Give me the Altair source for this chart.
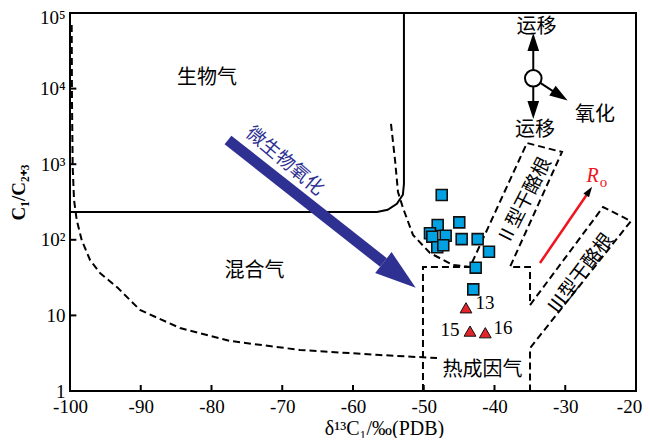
import altair as alt
import pandas as pd

# ---------------- data (all in data coordinates) ----------------
# solid boundary of biogenic gas field
bio_x = [-100, -56.6, -55.1, -53.8, -52.95, -52.8, -52.8]
bio_y = [233, 233, 249, 299, 395, 547, 100000]

# dashed boundary of mixed gas (left curve)
mix_x = [-99.76, -99.72, -99.62, -99.43, -99.05, -98.35, -97.17, -95.76, -93.22,
         -90.11, -84.45, -77.39, -67.49, -56.18, -48.13]
mix_y = [69350, 7063, 918, 336, 183, 99.4, 54.1, 36.4, 23.0,
         11.8, 6.81, 4.59, 3.49, 2.99, 2.73]

# dashed curve right of biogenic field
cur_x = [-54.63, -54.06, -53.64, -52.93, -51.52, -49.12, -45.87, -43.46]
cur_y = [3404, 1136, 429, 263, 116, 66.9, 46.4, 43.7]

# dashed outline of thermogenic box + kerogen type II / III bands
thm_x = [-50.11, -50.11, -43.46, -35.41, -30.46, -37.81, -34.98, -34.98,
         -24.66, -20.71, -34.98, -34.98]
thm_y = [1, 43.7, 43.7, 1907, 1450, 43.7, 43.7, 13.7,
         271, 177, 3.7, 1]

# samples
sq_x = [-47.46, -44.98, -48.03, -49.12, -48.79, -46.90, -44.64, -42.38,
        -48.09, -47.24, -40.78, -42.66, -43.0]
sq_y = [391, 170, 157, 122, 110, 113, 102, 102, 79.6, 84.6, 69.6, 42.8, 22.1]
tri_x = [-44.03, -43.46, -41.30]
tri_y = [12.6, 6.2, 5.9]
tri_lab = ["13", "15", "16"]
tri_lab_x = [-41.34, -46.29, -38.80]
tri_lab_y = [14.6, 6.41, 6.81]

# region labels
reg_text = ["生物气", "混合气", "热成因气", "运移", "运移", "氧化"]
reg_x = [-80.64, -73.92, -41.70, -34.06, -34.28, -25.80]
reg_y = [13810, 38.7, 1.90, 66000, 2834, 4477]

ker_text = ["Ⅱ型干酪根", "Ⅲ型干酪根"]
ker_x = [-35.76, -27.84]
ker_y = [326, 35.8]
ker_a = [297, 307]

# microbial oxidation arrow
mo_x = [-77.67, -55.69]
mo_y = [2090, 50.1]
mo_head = (-53.42, 34.0, 38)
mo_text = "微生物氧化"
mo_pos = (-69.61, 1103)

# Ro arrow
ro_x = [-33.57, -27.01]
ro_y = [49.4, 388]
ro_head = (-26.62, 441, 304.4)

# migration / oxidation symbol
sym_c = (-34.52, 13680)
sym_lines_x = [[-34.52, -34.52], [-34.52, -34.52], [-33.53, -31.69]]
sym_lines_y = [[17620, 31430], [10500, 6855], [11930, 9210]]
sym_heads_x = [-34.52, -34.52, -30.74]
sym_heads_y = [41330, 5212, 8080]
sym_heads_a = [270, 90, 33]

xticks = [-90, -80, -70, -60, -50, -40, -30]
yticks = [10, 100, 1000, 10000]

# ---------------- chart ----------------
SERIF = "Liberation Serif"
CJK = "Noto Sans CJK SC"
HEAD = "M1,0L-1,-0.65L-1,0.65Z"

xs = alt.Scale(domain=[-100, -20], nice=False, zero=False)
ys = alt.Scale(type="log", domain=[1, 100000], nice=False)

xaxis = alt.Axis(values=list(range(-100, -19, 10)), labelExpr="'' + datum.value",
                 title="δ¹³C₁/‰(PDB)", titleX=314, titleY=37, titleBaseline="middle",
                 titleAlign="center", titleFont=SERIF, titleFontSize=20, titleFontWeight="normal",
                 labelPadding=6,
                 labelOffset={"condition": {"test": "datum.value == -20", "value": -7}, "value": 0})
yaxis = alt.Axis(values=[1, 10, 100, 1000, 10000, 100000],
                 labelExpr="datum.value >= 99999 ? '10⁵' : datum.value >= 9999 ? '10⁴' : "
                           "datum.value >= 999 ? '10³' : datum.value >= 99 ? '10²' : "
                           "datum.value >= 9 ? '10' : '1'",
                 title="C₁/C₂₊₃", titleX=-52, titleY=179, titleAngle=270, titleAlign="center",
                 titleBaseline="middle", titleFont=SERIF, titleFontSize=19, titleFontWeight="bold",
                 labelPadding=5,
                 labelOffset={"condition": {"test": "datum.value >= 99999", "value": 4}, "value": 0})


def X(f="x"):
    return alt.X(f"{f}:Q", scale=xs, axis=xaxis)


def Y(f="y"):
    return alt.Y(f"{f}:Q", scale=ys, axis=yaxis)


def ldf(xl, yl, g=0):
    return pd.DataFrame({"x": xl, "y": yl, "i": list(range(len(xl))), "g": g})


bio = alt.Chart(ldf(bio_x, bio_y)).mark_line(color="black", strokeWidth=2).encode(
    x=X(), y=Y(), order="i:Q")

dash_df = pd.concat([ldf(mix_x, mix_y, 0), ldf(cur_x, cur_y, 1), ldf(thm_x, thm_y, 2)])
dash = alt.Chart(dash_df).mark_line(color="black", strokeWidth=2, strokeDash=[7, 4]).encode(
    x=X(), y=Y(), order="i:Q", detail="g:N")

# axis ticks (inward)
ytick_df = pd.DataFrame({"x": [-100] * len(yticks), "x2": [-99.1] * len(yticks), "y": yticks})
xtick_df = pd.DataFrame({"x": xticks, "y": [1] * len(xticks), "y2": [1.2] * len(xticks)})
ytk = alt.Chart(ytick_df).mark_rule(color="black", strokeWidth=2).encode(
    x=X(), x2="x2:Q", y=Y())
xtk = alt.Chart(xtick_df).mark_rule(color="black", strokeWidth=2).encode(
    x=X(), y=Y(), y2="y2:Q")

# microbial oxidation arrow
BLUE = "#2E3192"
mo_line = alt.Chart(ldf(mo_x, mo_y)).mark_line(color=BLUE, strokeWidth=11, strokeCap="butt").encode(
    x=X(), y=Y(), order="i:Q")
mo_h = alt.Chart(pd.DataFrame({"x": [mo_head[0]], "y": [mo_head[1]], "a": [mo_head[2]]})).mark_point(
    shape=HEAD, filled=True, color=BLUE, opacity=1, size=1681).encode(
    x=X(), y=Y(), angle=alt.Angle("a:Q", scale=None))
mo_t = alt.Chart(pd.DataFrame({"x": [mo_pos[0]], "y": [mo_pos[1]], "t": [mo_text]})).mark_text(
    font=CJK, fontSize=19, color=BLUE, angle=40).encode(x=X(), y=Y(), text="t:N")

# Ro arrow
RED = "#F0141E"
ro_line = alt.Chart(ldf(ro_x, ro_y)).mark_line(color=RED, strokeWidth=2.5).encode(
    x=X(), y=Y(), order="i:Q")
ro_h = alt.Chart(pd.DataFrame({"x": [ro_head[0]], "y": [ro_head[1]], "a": [ro_head[2]]})).mark_point(
    shape=HEAD, filled=True, color="black", opacity=1, size=110).encode(
    x=X(), y=Y(), angle=alt.Angle("a:Q", scale=None))
ro_R = alt.Chart(pd.DataFrame({"x": [-26.15], "y": [688], "t": ["R"]})).mark_text(
    font=SERIF, fontSize=20, fontStyle="italic", color=RED).encode(x=X(), y=Y(), text="t:N")
ro_o = alt.Chart(pd.DataFrame({"x": [-24.59], "y": [573], "t": ["o"]})).mark_text(
    font=SERIF, fontSize=15, color=RED).encode(x=X(), y=Y(), text="t:N")

# migration symbol
sym_df = pd.concat([ldf(sym_lines_x[k], sym_lines_y[k], k) for k in range(3)])
sym_l = alt.Chart(sym_df).mark_line(color="black", strokeWidth=2).encode(
    x=X(), y=Y(), order="i:Q", detail="g:N")
sym_h = alt.Chart(pd.DataFrame({"x": sym_heads_x, "y": sym_heads_y, "a": sym_heads_a})).mark_point(
    shape=HEAD, filled=True, color="black", opacity=1, size=324).encode(
    x=X(), y=Y(), angle=alt.Angle("a:Q", scale=None))
sym_c_m = alt.Chart(pd.DataFrame({"x": [sym_c[0]], "y": [sym_c[1]]})).mark_point(
    shape="circle", filled=True, fill="white", stroke="black", strokeWidth=2, opacity=1, size=276).encode(
    x=X(), y=Y())

# texts
reg = alt.Chart(pd.DataFrame({"x": reg_x, "y": reg_y, "t": reg_text})).mark_text(
    font=CJK, fontSize=20, color="black").encode(x=X(), y=Y(), text="t:N")
ker = alt.Chart(pd.DataFrame({"x": ker_x, "y": ker_y, "t": ker_text, "a": ker_a})).mark_text(
    font=CJK, fontSize=19, color="black").encode(
    x=X(), y=Y(), text="t:N", angle=alt.Angle("a:Q", scale=None))

# samples
sq = alt.Chart(pd.DataFrame({"x": sq_x, "y": sq_y})).mark_point(
    shape="square", filled=True, fill="#00A2E3", stroke="#111111", strokeWidth=1.6, opacity=1, size=120).encode(
    x=X(), y=Y())
tri = alt.Chart(pd.DataFrame({"x": tri_x, "y": tri_y})).mark_point(
    shape="triangle-up", filled=True, fill="#E3242B", stroke="#111111", strokeWidth=1, opacity=1, size=140).encode(
    x=X(), y=Y())
tri_t = alt.Chart(pd.DataFrame({"x": tri_lab_x, "y": tri_lab_y, "t": tri_lab})).mark_text(
    font=SERIF, fontSize=19, color="black").encode(x=X(), y=Y(), text="t:N")

chart = alt.layer(
    bio, dash, ytk, xtk, mo_line, mo_h, mo_t, ro_line, ro_h, ro_R, ro_o,
    sym_l, sym_h, sym_c_m, reg, ker, sq, tri, tri_t
).properties(
    width=566, height=378,
    autosize=alt.AutoSizeParams(type="none"),
    padding={"left": 62, "top": 5, "right": 6, "bottom": 47},
).configure_view(
    stroke="black", strokeWidth=2
).configure_axis(
    grid=False, domain=False, ticks=False, tickSize=0,
    labelFont=SERIF, labelFontSize=19, labelColor="black", titleColor="black",
    labelFlush=False, labelOverlap=False
)

chart.save("out.html", embed_options={"renderer": "svg", "actions": False})
